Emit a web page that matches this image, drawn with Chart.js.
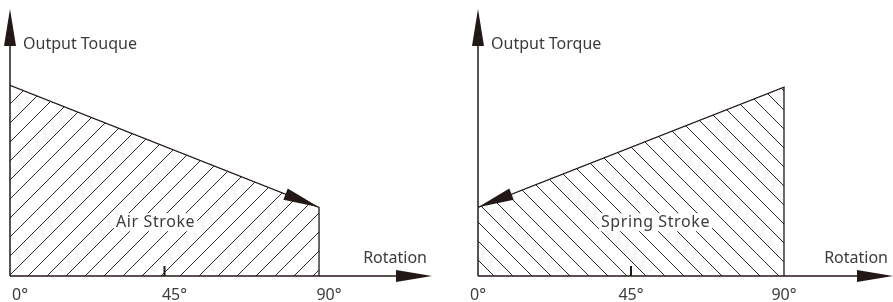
<!DOCTYPE html>
<html>
<head>
<meta charset="utf-8">
<script src="https://cdn.jsdelivr.net/npm/chart.js@4"></script>
<style>
  html,body{margin:0;padding:0;background:#fff;}
  #wrap{position:relative;width:893px;height:302px;overflow:hidden;}
  canvas{position:absolute;top:0;}
</style>
</head>
<body>
<div id="wrap">
  <canvas id="left" width="446" height="302" style="left:0"></canvas>
  <canvas id="right" width="447" height="302" style="left:446px"></canvas>
</div>
<script>
// ---- data ----
const rotationAngles = [0, 90];           // degrees (start / end of stroke)
const tickValues = [0, 45, 90];           // degrees
const tickLabels = ['0°', '45°', '90°'];
const airStrokeTorque = [100, 36];        // output torque, air stroke
const springStrokeTorque = [36, 99];      // output torque, spring stroke
const yTitles = ['Output Touque', 'Output Torque'];
const strokeNames = ['Air Stroke', 'Spring Stroke'];
const xTitle = 'Rotation';

const INK = '#231815';
const TEXT = '#3e3a39';
const FONT = '16px "Noto Sans", sans-serif';

function hatch(dir) {
  const s = 19;
  const c = document.createElement('canvas');
  c.width = s; c.height = s;
  const g = c.getContext('2d');
  g.strokeStyle = '#2a2a2a';
  g.lineWidth = 1;
  g.beginPath();
  if (dir > 0) {
    g.moveTo(0, s); g.lineTo(s, 0);
    g.moveTo(-2, 2); g.lineTo(2, -2);
    g.moveTo(s - 2, s + 2); g.lineTo(s + 2, s - 2);
  } else {
    g.moveTo(0, 0); g.lineTo(s, s);
    g.moveTo(-2, s - 2); g.lineTo(2, s + 2);
    g.moveTo(s - 2, -2); g.lineTo(s + 2, 2);
  }
  g.stroke();
  return g.createPattern(c, 'repeat');
}

function tri(ctx, tipX, tipY, fromX, fromY, len, half) {
  const dx = tipX - fromX, dy = tipY - fromY;
  const d = Math.hypot(dx, dy);
  const ux = dx / d, uy = dy / d;
  const bx = tipX - ux * len, by = tipY - uy * len;
  ctx.beginPath();
  ctx.moveTo(tipX, tipY);
  ctx.lineTo(bx - uy * half, by + ux * half);
  ctx.lineTo(bx + uy * half, by - ux * half);
  ctx.closePath();
  ctx.fill();
}

const diagramPlugin = {
  id: 'diagram',
  afterDatasetsDraw(chart, args, o) {
    const ctx = chart.ctx;
    const xs = chart.scales.x, ys = chart.scales.y;
    const x0 = xs.getPixelForValue(0);
    const yb = ys.getPixelForValue(0);
    const top = chart.chartArea.top;
    const right = chart.chartArea.right;
    ctx.save();
    ctx.fillStyle = INK;
    ctx.strokeStyle = INK;
    // y axis
    ctx.lineWidth = 1.5;
    ctx.beginPath(); ctx.moveTo(x0, yb); ctx.lineTo(x0, top + 20); ctx.stroke();
    tri(ctx, x0, top, x0, top + 10, 37, 6);
    // x axis
    ctx.beginPath(); ctx.moveTo(x0, yb); ctx.lineTo(right - 20, yb); ctx.stroke();
    tri(ctx, right, yb, right - 10, yb, 36, 6);
    // 45 tick
    ctx.lineWidth = 2;
    const x45 = xs.getPixelForValue(tickValues[1]);
    ctx.beginPath(); ctx.moveTo(x45, yb); ctx.lineTo(x45, yb - 10); ctx.stroke();
    // arrow on stroke line
    const pts = chart.getDatasetMeta(0).data;
    if (o.arrowAtEnd) tri(ctx, pts[1].x, pts[1].y, pts[0].x, pts[0].y, 36, 6);
    else tri(ctx, pts[0].x, pts[0].y, pts[1].x, pts[1].y, 36, 6);
    // texts
    ctx.font = FONT;
    ctx.fillStyle = TEXT;
    ctx.textBaseline = 'middle';
    ctx.textAlign = 'left';
    ctx.fillText(o.yTitle, x0 + 13, top + 35);
    ctx.textAlign = 'right';
    ctx.fillText(xTitle, right - 5, yb - 18);
    ctx.textAlign = 'center';
    tickValues.forEach((v, i) => {
      ctx.fillText(tickLabels[i], xs.getPixelForValue(v) + o.tickOffset, yb + 19);
    });
    // stroke label with white box
    ctx.letterSpacing = '0.6px';
    const lx = xs.getPixelForValue(o.labelAt[0]);
    const ly = ys.getPixelForValue(o.labelAt[1]);
    const w = ctx.measureText(o.label).width;
    ctx.fillStyle = '#fff';
    ctx.fillRect(lx - w / 2 - 2, ly - 9, w + 4, 18);
    ctx.fillStyle = TEXT;
    ctx.fillText(o.label, lx, ly);
    ctx.restore();
  }
};

function makeChart(id, torque, dir, opts) {
  const pts = rotationAngles.map((a, i) => ({x: a, y: torque[i]}));
  pts.push({x: rotationAngles[1], y: 0});
  return new Chart(document.getElementById(id), {
    type: 'scatter',
    data: {
      datasets: [{
        data: pts,
        showLine: true,
        borderColor: INK,
        borderWidth: 1.3,
        pointRadius: 0,
        fill: 'origin',
        backgroundColor: hatch(dir),
        tension: 0
      }]
    },
    options: {
      responsive: false,
      animation: false,
      devicePixelRatio: 1,
      layout: {padding: opts.padding},
      scales: {
        x: {type: 'linear', min: 0, max: opts.xMax, display: false},
        y: {type: 'linear', min: 0, max: 140, display: false}
      },
      plugins: {
        legend: {display: false},
        tooltip: {enabled: false},
        diagram: opts.diagram
      }
    },
    plugins: [diagramPlugin]
  });
}

makeChart('left', airStrokeTorque, 1, {
  padding: {left: 10, right: 14, top: 9, bottom: 26},
  xMax: 122.9,
  diagram: {yTitle: yTitles[0], label: strokeNames[0], labelAt: [42.4, 28.2], tickOffset: 10, arrowAtEnd: true}
});
makeChart('right', springStrokeTorque, -1, {
  padding: {left: 32, right: 0, top: 9, bottom: 26},
  xMax: 122.06,
  diagram: {yTitle: yTitles[1], label: strokeNames[1], labelAt: [52.2, 28.2], tickOffset: 0, arrowAtEnd: false}
});
</script>
</body>
</html>
